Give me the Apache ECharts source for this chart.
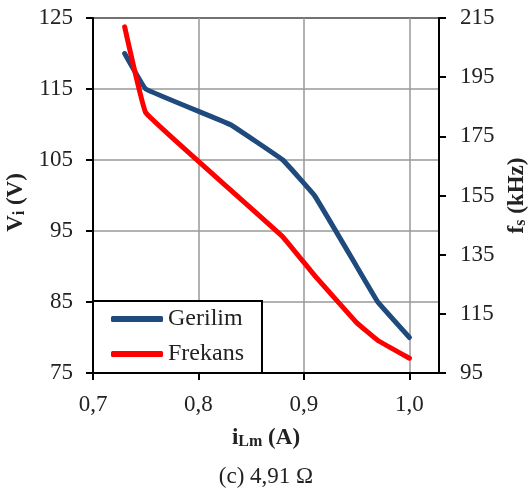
<!DOCTYPE html>
<html>
<head>
<meta charset="utf-8">
<script src="https://cdn.jsdelivr.net/npm/echarts@6/dist/echarts.min.js"></script>
<style>
  html, body { margin: 0; padding: 0; background: #fff; }
  #chart { width: 532px; height: 493px; }
</style>
</head>
<body>
<div id="chart"></div>
<script>
// Magnetising current i_Lm (A)
const currentA = [0.73, 0.75, 0.83, 0.88, 0.91, 0.95, 0.97, 1.0];
// Input voltage V_i (V) — left axis
const gerilim = [120, 115, 110, 105, 100, 90, 85, 80];
// Switching frequency f_s (kHz) — right axis
const frekans = [212, 183, 157, 141, 128, 112, 106, 100];

const xTicks = [0.7, 0.8, 0.9, 1.0];
const caption = '(c) 4,91 Ω';

const serif = '"Liberation Serif", "Times New Roman", serif';
const comma = v => v.toFixed(1).replace('.', ',');

// rich-text styles for bold axis titles with a subscript
const nameRich = {
  b: { fontFamily: serif, fontSize: 23, fontWeight: 'bold', color: '#222', lineHeight: 24, verticalAlign: 'bottom' },
  s: { fontFamily: serif, fontSize: 16, fontWeight: 'bold', color: '#222', lineHeight: 14, verticalAlign: 'bottom' }
};

const chart = echarts.init(document.getElementById('chart'), null, { renderer: 'canvas' });

chart.setOption({
  animation: false,
  backgroundColor: '#fff',
  textStyle: { fontFamily: serif },
  title: {
    text: caption,
    left: 'center',
    top: 460,
    textStyle: { fontFamily: serif, fontSize: 23, fontWeight: 'normal', color: '#222' }
  },
  grid: {
    left: 93, right: 93, top: 18, bottom: 120,
    outerBoundsMode: 'none',
    containLabel: false,
    show: true, borderColor: '#000', borderWidth: 2, backgroundColor: 'transparent'
  },
  legend: {
    orient: 'vertical',
    left: 93, top: 301,
    padding: [6, 18, 7, 18],
    itemGap: 11,
    itemWidth: 52, itemHeight: 6,
    icon: 'roundRect',
    backgroundColor: '#fff',
    borderColor: '#000', borderWidth: 2, borderRadius: 0,
    textStyle: { fontFamily: serif, fontSize: 24, color: '#222' },
    data: ['Gerilim', 'Frekans']
  },
  xAxis: {
    type: 'value',
    min: 0.7, max: 1.028,
    name: '{b|i}{s|Lm}{b| (A)}',
    nameLocation: 'middle',
    nameGap: 53,
    nameTextStyle: { rich: nameRich },
    axisLine: { show: true, lineStyle: { color: '#000', width: 2 } },
    axisTick: { show: true, customValues: xTicks, length: 7, lineStyle: { color: '#000', width: 2 } },
    axisLabel: { customValues: xTicks, formatter: comma, fontFamily: serif, fontSize: 23, color: '#222', margin: 20 },
    splitLine: { show: true, lineStyle: { color: '#999', width: 1.5 } }
  },
  yAxis: [
    {
      type: 'value',
      min: 75, max: 125, interval: 10,
      position: 'left',
      name: '{b|V}{s|i}{b| (V)}',
      nameLocation: 'middle',
      nameRotate: 90,
      nameGap: 63,
      nameTextStyle: { rich: nameRich, padding: [0, 14, 0, 0] },
      axisLine: { show: true, lineStyle: { color: '#000', width: 2 } },
      axisTick: { show: true, length: 7, lineStyle: { color: '#000', width: 2 } },
      axisLabel: { fontFamily: serif, fontSize: 23, color: '#222', margin: 20 },
      splitLine: { show: true, lineStyle: { color: '#999', width: 1.5 } }
    },
    {
      type: 'value',
      min: 95, max: 215, interval: 20,
      position: 'right',
      name: '{b|f}{s|s}{b| (kHz)}',
      nameLocation: 'middle',
      nameRotate: 90,
      nameGap: 64,
      nameTextStyle: { rich: nameRich },
      axisLine: { show: true, lineStyle: { color: '#000', width: 2 } },
      axisTick: { show: true, length: 7, lineStyle: { color: '#000', width: 2 } },
      axisLabel: { fontFamily: serif, fontSize: 23, color: '#222', margin: 21 },
      splitLine: { show: false }
    }
  ],
  series: [
    {
      name: 'Gerilim',
      type: 'line',
      yAxisIndex: 0,
      data: currentA.map((x, i) => [x, gerilim[i]]),
      showSymbol: false, symbol: 'none',
      smooth: 0.06,
      color: '#1F4A7D',
      lineStyle: { width: 5, color: '#1F4A7D', cap: 'round', join: 'round' },
      z: 3
    },
    {
      name: 'Frekans',
      type: 'line',
      yAxisIndex: 1,
      data: currentA.map((x, i) => [x, frekans[i]]),
      showSymbol: false, symbol: 'none',
      smooth: 0.06,
      color: '#FF0000',
      lineStyle: { width: 5, color: '#FF0000', cap: 'round', join: 'round' },
      z: 4
    }
  ]
});
</script>
</body>
</html>
